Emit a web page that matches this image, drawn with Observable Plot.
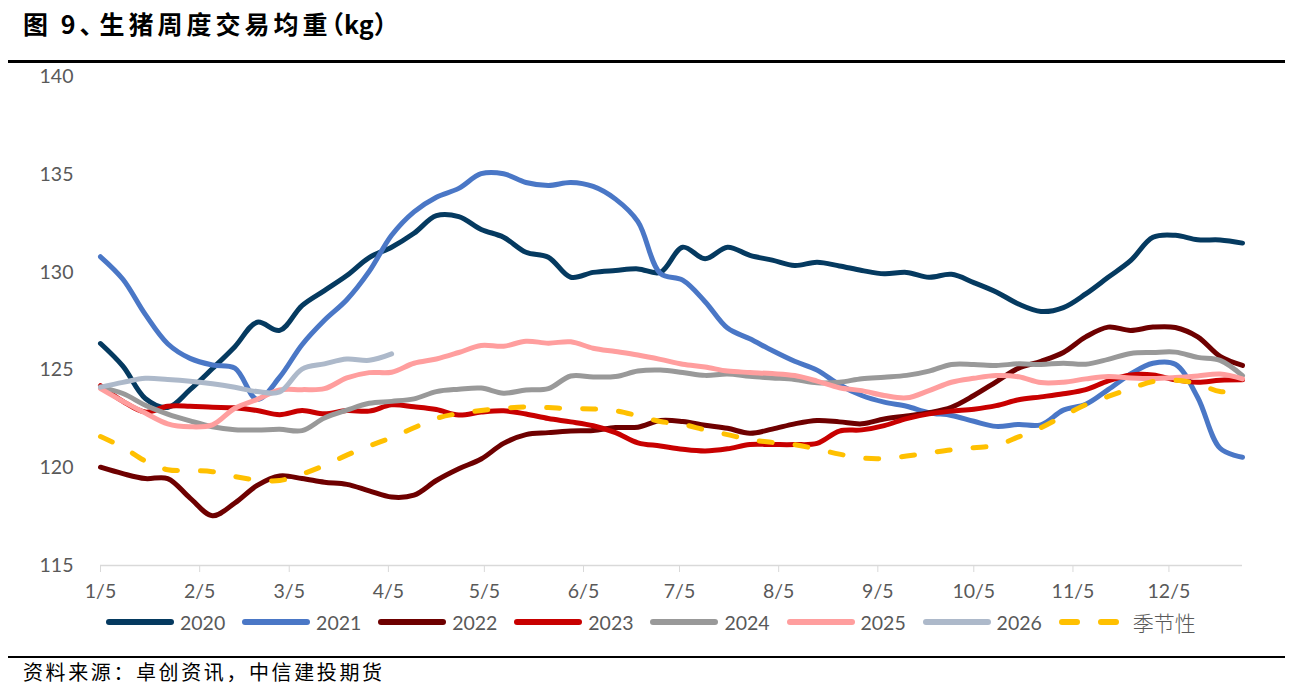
<!DOCTYPE html>
<html><head><meta charset="utf-8">
<script src="https://cdn.jsdelivr.net/npm/d3@7"></script>
<script src="https://cdn.jsdelivr.net/npm/@observablehq/plot@0.6"></script>
<style>
body{margin:0;background:#fff;width:1297px;height:696px;overflow:hidden;position:relative;font-family:Lato,"Noto Sans CJK SC",sans-serif;}
#title{position:absolute;left:23px;top:5px;font-family:"Noto Sans CJK SC";font-weight:700;font-size:25px;letter-spacing:4px;word-spacing:-1px;color:#000;line-height:36px;white-space:nowrap}
#title .c{letter-spacing:-5px}
#title .p{font-feature-settings:"halt";letter-spacing:0}
.rule{position:absolute;left:8px;width:1277px;height:2.5px;background:#000}
#chart{position:absolute;left:0;top:62px}
#legend{position:absolute;left:0;top:607px;width:1297px;height:30px}
.item{position:absolute;top:0;height:30px;display:flex;align-items:center}
.lab{font-family:Lato;font-size:19.5px;color:#595959;margin-left:6px;white-space:nowrap}
.lab.cjk{font-family:"Noto Sans CJK SC";font-size:21px;font-weight:300;margin-left:10px}
#foot{position:absolute;left:23px;top:658px;font-family:"Noto Sans CJK SC";font-size:20px;letter-spacing:2.6px;color:#000;line-height:28px;white-space:nowrap}
</style></head><body>
<div id="title">图 9<span class="c">、</span>生猪周度交易均重<span class="p">（kg）</span></div>
<div class="rule" style="top:60px"></div>
<div id="chart"></div>
<div id="legend"></div>
<div class="rule" style="top:655.5px"></div>
<div id="foot">资料来源：卓创资讯，中信建投期货</div>
<script>
// ---- data ----
const seriesNames = ["2020","2021","2022","2023","2024","2025","2026","季节性"];
const xTickLabels = ["1/5","2/5","3/5","4/5","5/5","6/5","7/5","8/5","9/5","10/5","11/5","12/5"];
const yTicks = [115,120,125,130,135,140];
const v2020 = [126.36,125.2,123.55,123.09,124.0,125.08,126.2,127.45,127.03,128.3,129.07,129.84,130.76,131.29,132.0,132.9,132.85,132.2,131.8,131.03,130.78,129.75,130.0,130.1,130.18,130.0,131.29,130.7,131.29,130.87,130.63,130.35,130.52,130.33,130.1,129.93,130.0,129.75,129.9,129.48,129.0,128.38,128.0,128.2,128.9,129.75,130.6,131.8,131.9,131.67,131.66,131.5];
const v2021 = [130.8,129.65,127.85,126.35,125.6,125.26,125.1,123.5,124.64,126.3,127.55,128.6,130.05,131.9,133.1,133.85,134.3,135.05,135.05,134.6,134.45,134.6,134.4,133.75,132.6,129.95,129.6,128.5,127.15,126.6,126.0,125.45,125.0,124.25,123.7,123.36,123.15,122.82,122.68,122.38,122.12,122.22,122.2,122.95,123.25,124.0,124.8,125.35,125.3,123.6,121.0,120.54];
const v2022 = [120.03,119.7,119.45,119.45,118.45,117.55,118.2,119.1,119.58,119.45,119.26,119.15,118.82,118.5,118.6,119.35,119.95,120.45,121.25,121.7,121.8,121.88,121.91,122.06,122.08,122.42,122.37,122.18,122.02,121.77,121.98,122.25,122.42,122.35,122.25,122.5,122.65,122.82,123.1,123.7,124.4,125.1,125.45,125.9,126.7,127.2,127.03,127.2,127.18,126.7,125.7,125.24];
const v2023 = [124.2,123.4,122.85,123.15,123.15,123.1,123.07,122.93,122.72,122.93,122.76,122.93,122.9,123.22,123.12,122.98,122.7,122.85,122.92,122.75,122.52,122.35,122.15,121.8,121.28,121.12,120.95,120.86,120.97,121.19,121.19,121.19,121.25,121.88,121.94,122.16,122.52,122.76,122.9,123.0,123.18,123.48,123.63,123.79,124.0,124.45,124.75,124.75,124.5,124.38,124.48,124.5];
const v2024 = [124.13,123.8,123.2,122.75,122.4,122.1,121.95,121.93,121.97,121.9,122.55,122.95,123.3,123.4,123.53,123.9,124.02,124.08,123.82,123.98,124.05,124.7,124.65,124.67,124.95,125.0,124.88,124.73,124.8,124.68,124.6,124.52,124.35,124.38,124.56,124.64,124.73,124.95,125.29,125.29,125.24,125.32,125.29,125.35,125.3,125.55,125.85,125.9,125.92,125.65,125.5,124.72];
const v2025 = [124.05,123.4,122.8,122.25,122.1,122.2,123.05,123.5,123.98,124.0,124.05,124.6,124.87,124.89,125.35,125.57,125.9,126.26,126.22,126.48,126.38,126.45,126.12,125.95,125.77,125.55,125.3,125.16,124.95,124.88,124.82,124.72,124.44,124.1,123.95,123.7,123.58,123.95,124.38,124.58,124.72,124.66,124.36,124.38,124.55,124.67,124.6,124.57,124.62,124.7,124.8,124.55];
const v2026 = [124.13,124.37,124.58,124.52,124.43,124.3,124.12,123.9,123.88,125.05,125.32,125.57,125.5,125.83];
const vSeason = [121.6,121.05,120.35,119.9,119.86,119.8,119.55,119.38,119.35,119.68,120.12,120.65,121.12,121.55,122.05,122.53,122.78,122.93,123.04,123.12,123.08,123.03,123.01,122.92,122.66,122.37,122.22,121.94,121.7,121.44,121.3,121.18,120.96,120.7,120.5,120.47,120.6,120.76,120.92,121.03,121.15,121.58,122.05,122.65,123.23,123.65,124.05,124.42,124.48,124.3,123.9,123.96];

// ---- build ----
const colors = ["#053A60","#4A77C6","#6E0000","#C80000","#999999","#FF9E9E","#ADB9CA","#FFC000"];
const valuesList = [v2020,v2021,v2022,v2023,v2024,v2025,v2026,vSeason];
const weekDate = i => new Date(Date.UTC(2023,0,5+7*i));
const tickDates = xTickLabels.map(l => { const [m,d] = l.split("/").map(Number); return new Date(Date.UTC(2023,m-1,d)); });
const tickText = new Map(tickDates.map((d,i)=>[+d, xTickLabels[i]]));
const series = seriesNames.map((name,k)=>({name, color:colors[k], dashed: k===7,
  rows: valuesList[k].map((v,i)=>({date:weekDate(i), value:v}))}));

const marks = [
  Plot.ruleY([115], {stroke:"#d9d9d9", strokeWidth:1.3}),
  Plot.axisX({ticks:tickDates, tickFormat:d=>tickText.get(+d), tickSize:7, tickPadding:12, stroke:"#d9d9d9", fill:"#595959", label:null}),
  Plot.axisY({ticks:yTicks, tickSize:0, tickPadding:27, fill:"#595959", label:null}),
  ...series.map(s => Plot.line(s.rows, {x:"date", y:"value", stroke:s.color, strokeWidth:5,
     curve:"catmull-rom", strokeLinecap:"round", strokeLinejoin:"round",
     strokeDasharray: s.dashed ? "13,23" : null}))
];

const chart = Plot.plot({
  width:1297, height:545,
  marginLeft:100, marginRight:55, marginTop:14.5, marginBottom:42,
  x:{type:"utc", domain:[weekDate(0), weekDate(valuesList[0].length-1)]},
  y:{domain:[115,140]},
  style:{fontFamily:"Lato", fontSize:"19.5px", background:"transparent", color:"#595959"},
  marks
});
document.getElementById("chart").appendChild(chart);

// ---- legend ----
const leg = document.getElementById("legend");
series.forEach((s,k)=>{
  const it = document.createElement("div");
  it.className = "item";
  it.style.left = (106 + 136.1*k) + "px";
  const sw = s.dashed
    ? `<svg width="64" height="12"><line x1="3" y1="6" x2="61" y2="6" stroke="${s.color}" stroke-width="6" stroke-linecap="round" stroke-dasharray="15,24"/></svg>`
    : `<svg width="68" height="12"><line x1="3" y1="6" x2="65" y2="6" stroke="${s.color}" stroke-width="6" stroke-linecap="round"/></svg>`;
  it.innerHTML = sw + `<span class="lab${s.dashed?" cjk":""}">${s.name}</span>`;
  leg.appendChild(it);
});
</script>
</body></html>
